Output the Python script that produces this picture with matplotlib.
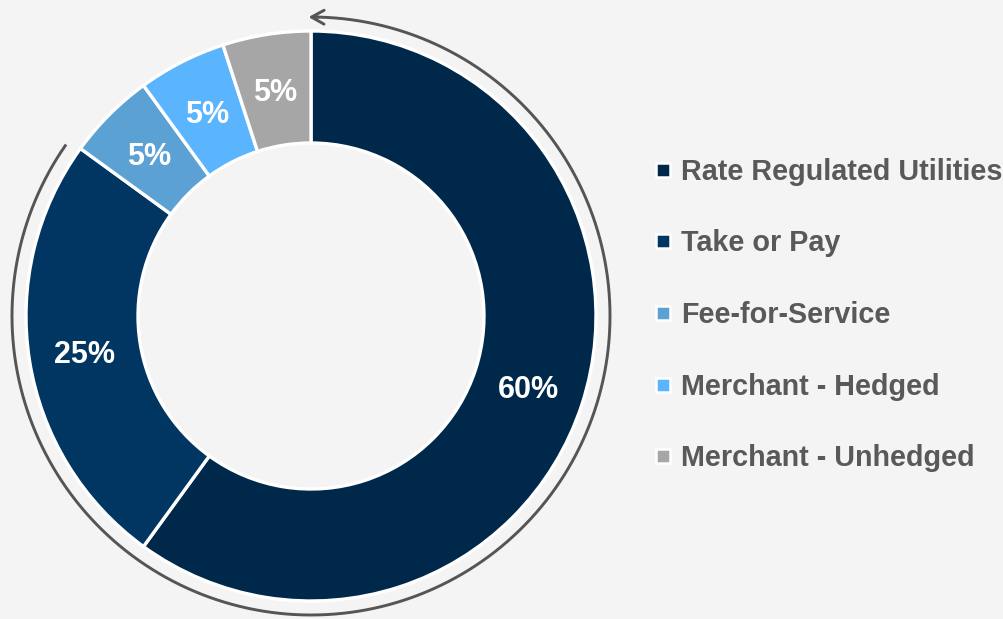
import numpy as np
import matplotlib
matplotlib.use("Agg")
import matplotlib.pyplot as plt
from matplotlib.lines import Line2D

categories = ["Rate Regulated Utilities", "Take or Pay", "Fee-for-Service",
              "Merchant - Hedged", "Merchant - Unhedged"]
values = [60, 25, 5, 5, 5]
labels = ["60%", "25%", "5%", "5%", "5%"]
colors = ["#00284A", "#003661", "#5BA1D3", "#5BB4FE", "#A6A6A6"]

BG = "#F4F4F4"
W, H = 1004, 619
fig = plt.figure(figsize=(W / 100, H / 100), dpi=100, facecolor=BG)
ax = fig.add_axes([0, 0, 1, 1])
ax.set_facecolor(BG)
ax.set_xlim(0, W)
ax.set_ylim(0, H)
ax.set_aspect("equal")
ax.axis("off")

cx, cy = 311, H - 316
R = 285
ring = 112

wedges, texts = ax.pie(values, colors=colors, startangle=90, counterclock=False,
                       radius=R, center=(cx, cy), labels=labels, labeldistance=None,
                       wedgeprops=dict(width=ring, edgecolor="white", linewidth=2.4))
ax.set_xlim(0, W)
ax.set_ylim(0, H)

# percentage labels at the middle of the ring
start = 90.0
total = sum(values)
rmid = R - ring / 2
for v, lab in zip(values, labels):
    mid = start - 360.0 * v / total / 2
    start -= 360.0 * v / total
    th = np.deg2rad(mid)
    ax.text(cx + rmid * np.cos(th), cy + rmid * np.sin(th) - 3, lab,
            ha="center", va="center", color="white", fontsize=22,
            fontweight="bold", family="Liberation Sans")

# arc arrow around the donut
ra = 299
th = np.deg2rad(np.linspace(145, 449, 400))
ax.plot(cx + ra * np.cos(th), cy + ra * np.sin(th), color="#555555", lw=2.1,
        solid_capstyle="butt")
t_end = np.deg2rad(448)
t_tip = np.deg2rad(451)
ax.annotate("", xy=(cx + ra * np.cos(t_tip), cy + ra * np.sin(t_tip)),
            xytext=(cx + ra * np.cos(t_end), cy + ra * np.sin(t_end)),
            arrowprops=dict(arrowstyle="->,head_length=0.9,head_width=0.5",
                            color="#555555", lw=2.1))

handles = [Line2D([0], [0], marker="s", linestyle="none", markersize=10,
                  markerfacecolor=c, markeredgecolor="white", markeredgewidth=1.8)
           for c in colors]
leg = ax.legend(handles, categories, loc="center left",
                bbox_to_anchor=(629 / W, 1 - 315 / H), frameon=False,
                handlelength=0.6, handletextpad=0.3, labelspacing=1.52,
                prop=dict(family="Liberation Sans", weight="bold", size=20.7))
for t in leg.get_texts():
    t.set_color("#595959")

fig.savefig("out.png", dpi=100, facecolor=BG)
